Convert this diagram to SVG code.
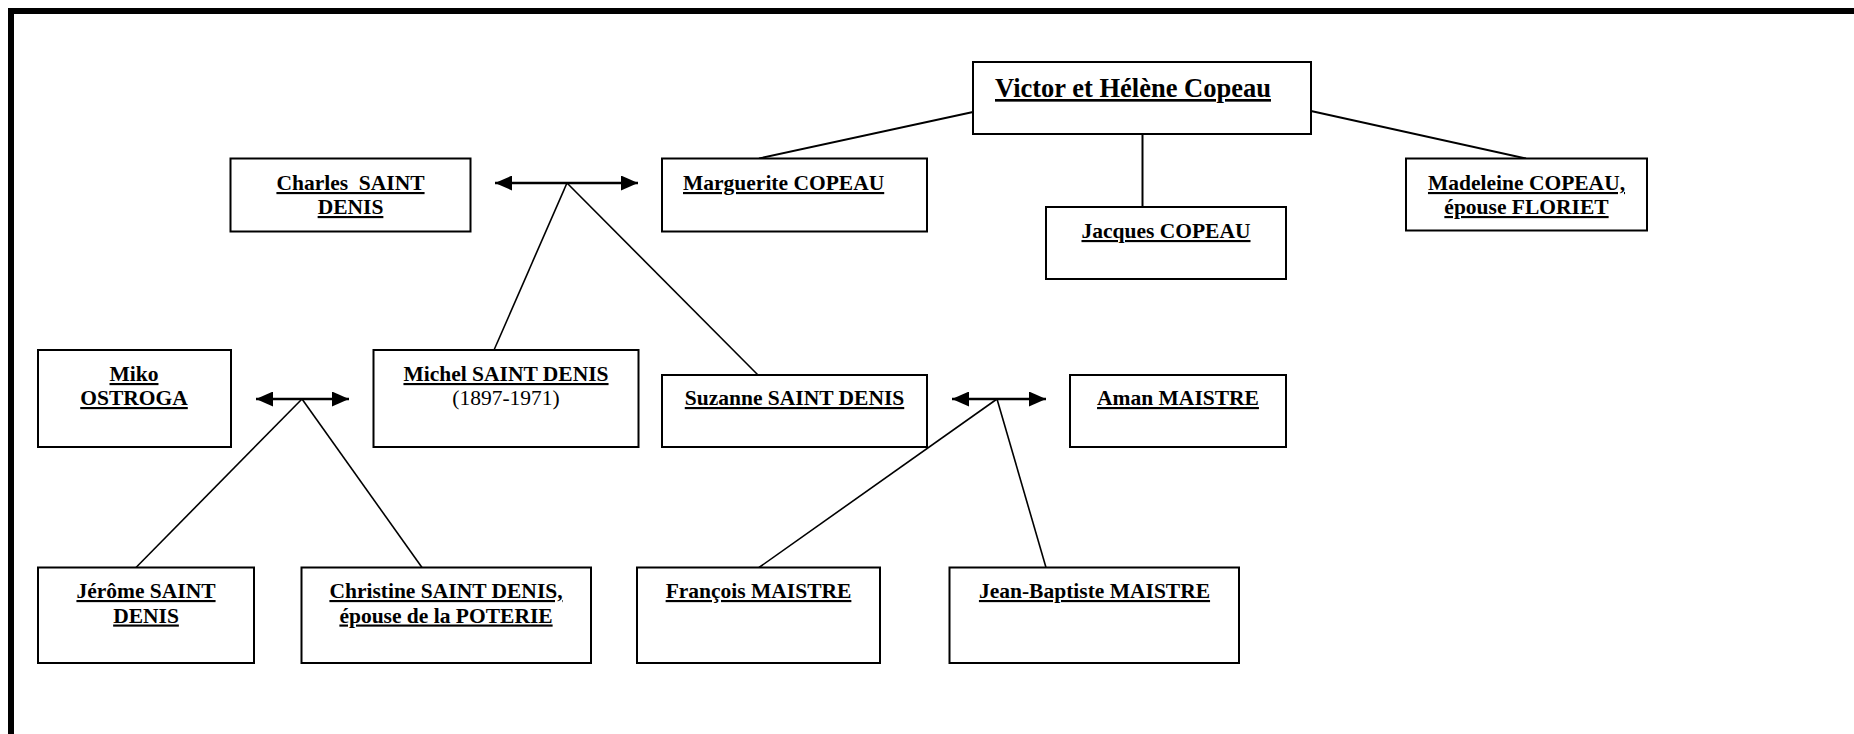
<svg xmlns="http://www.w3.org/2000/svg" width="1854" height="734" viewBox="0 0 1854 734">
<style>
  .box { fill: #ffffff; stroke: #000000; stroke-width: 2; }
  .t { font-family: "Liberation Serif", "Times New Roman", serif; font-size: 21.5px; font-weight: bold; text-decoration: underline; fill: #000000; white-space: pre; }
  .c { text-anchor: middle; }
  .big { font-size: 26.5px; }
  .plain { font-weight: normal; text-decoration: none; }
  .link { fill: none; stroke: #000000; stroke-width: 2; }
  .kid { fill: none; stroke: #000000; stroke-width: 1.6; }
  .mar { fill: none; stroke: #000000; stroke-width: 2.5; marker-start: url(#ah); marker-end: url(#ah); }
</style>
<defs>
  <marker id="ah" markerUnits="userSpaceOnUse" markerWidth="17" markerHeight="15" refX="17" refY="7.5" orient="auto-start-reverse">
    <path d="M0,0 L17,7.5 L0,15 z" fill="#000000"/>
  </marker>
</defs>
<rect x="0" y="0" width="1854" height="734" fill="#ffffff"/>
<path d="M11,734 V11 H1854" fill="none" stroke="#000000" stroke-width="6"/>

<g id="connectors">
  <path class="link" d="M973,112 L759,158.5"/>
  <path class="link" d="M1142.5,134 V207"/>
  <path class="link" d="M1311,111 L1526,158.5"/>
  <path class="mar" d="M495,183 H638"/>
  <path class="kid" d="M567,183 L494,350"/>
  <path class="kid" d="M567,183 L758,375"/>
  <path class="mar" d="M256,399 H349"/>
  <path class="kid" d="M302,399 L136,567.5"/>
  <path class="kid" d="M302,399 L422,567.5"/>
  <path class="mar" d="M952,399 H1046"/>
  <path class="kid" d="M997,399 L759,567.5"/>
  <path class="kid" d="M997,399 L1046,567.5"/>
</g>

<g id="n-victor">
  <rect class="box" x="973" y="62" width="338" height="72"/>
  <text class="t big" x="995" y="97">Victor et Hélène Copeau</text>
</g>
<g id="n-charles">
  <rect class="box" x="230.5" y="158.5" width="240" height="73"/>
  <text class="t c" x="350.5" y="190">Charles  SAINT</text>
  <text class="t c" x="350.5" y="214">DENIS</text>
</g>
<g id="n-marguerite">
  <rect class="box" x="662" y="158.5" width="265" height="73"/>
  <text class="t" x="683" y="190">Marguerite COPEAU</text>
</g>
<g id="n-madeleine">
  <rect class="box" x="1406" y="158.5" width="241" height="72"/>
  <text class="t c" x="1526.5" y="190">Madeleine COPEAU,</text>
  <text class="t c" x="1526.5" y="214">épouse FLORIET</text>
</g>
<g id="n-jacques">
  <rect class="box" x="1046" y="207" width="240" height="72"/>
  <text class="t c" x="1166" y="238">Jacques COPEAU</text>
</g>
<g id="n-miko">
  <rect class="box" x="38" y="350" width="193" height="97"/>
  <text class="t c" x="134" y="381">Miko</text>
  <text class="t c" x="134" y="405">OSTROGA</text>
</g>
<g id="n-michel">
  <rect class="box" x="373.5" y="350" width="265" height="97"/>
  <text class="t c" x="506" y="381">Michel SAINT DENIS</text>
  <text class="t c plain" x="506" y="405">(1897-1971)</text>
</g>
<g id="n-suzanne">
  <rect class="box" x="662" y="375" width="265" height="72"/>
  <text class="t c" x="794.5" y="405">Suzanne SAINT DENIS</text>
</g>
<g id="n-aman">
  <rect class="box" x="1070" y="375" width="216" height="72"/>
  <text class="t c" x="1178" y="405">Aman MAISTRE</text>
</g>
<g id="n-jerome">
  <rect class="box" x="38" y="567.5" width="216" height="95.5"/>
  <text class="t c" x="146" y="598">Jérôme SAINT</text>
  <text class="t c" x="146" y="622.5">DENIS</text>
</g>
<g id="n-christine">
  <rect class="box" x="301.5" y="567.5" width="289.5" height="95.5"/>
  <text class="t c" x="446" y="598">Christine SAINT DENIS,</text>
  <text class="t c" x="446" y="622.5">épouse de la POTERIE</text>
</g>
<g id="n-francois">
  <rect class="box" x="637" y="567.5" width="243" height="95.5"/>
  <text class="t c" x="758.5" y="598">François MAISTRE</text>
</g>
<g id="n-jeanbaptiste">
  <rect class="box" x="949.5" y="567.5" width="289.5" height="95.5"/>
  <text class="t c" x="1094.5" y="598">Jean-Baptiste MAISTRE</text>
</g>
</svg>
